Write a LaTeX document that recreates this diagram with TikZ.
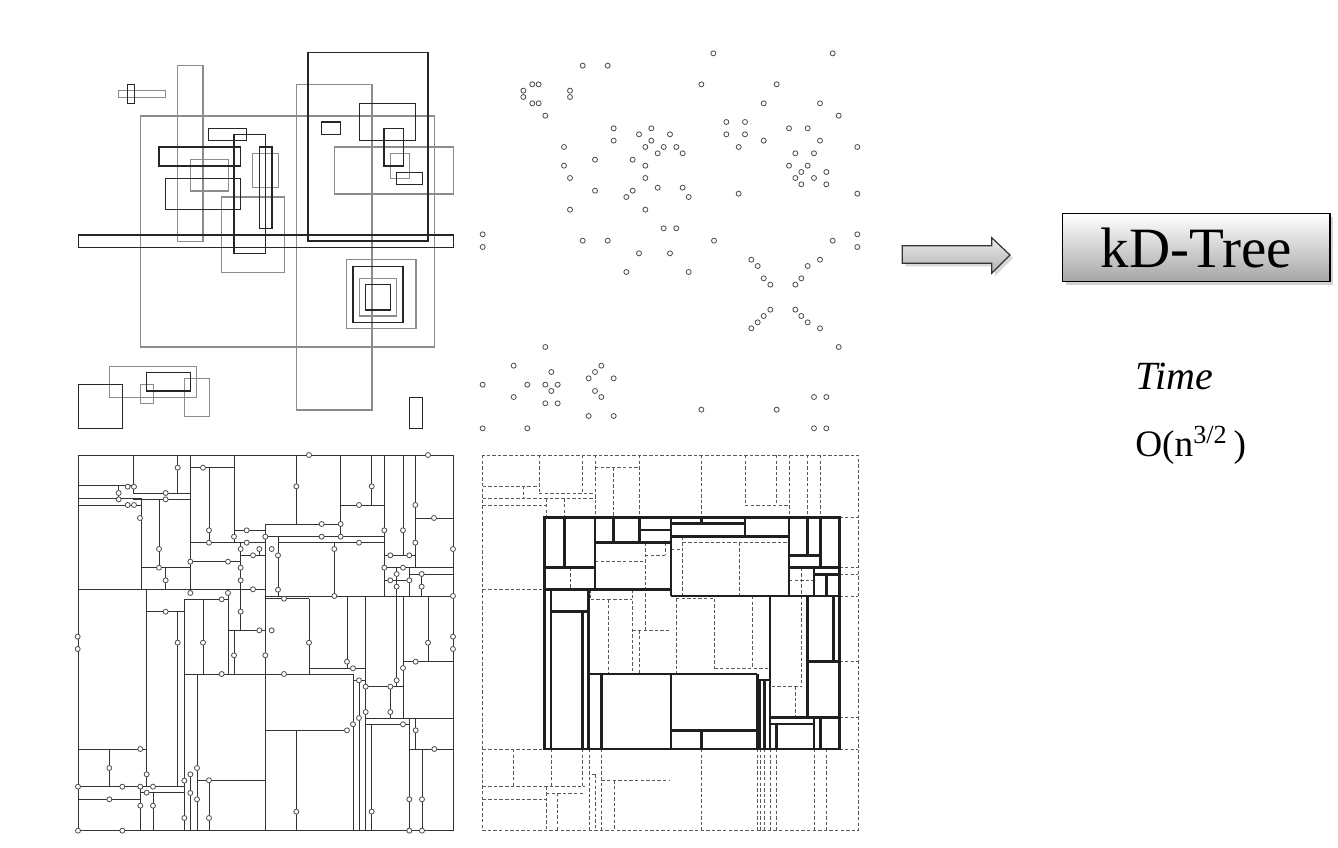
\documentclass[tikz,border=0pt]{standalone}
\usepackage{fontspec}
\setmainfont{Liberation Serif}
\usetikzlibrary{shadows}
\begin{document}
\begin{tikzpicture}[x=0.75pt,y=-0.75pt,
  rg/.style={draw=black!45,line width=0.8pt},
  rd/.style={draw=black!85,line width=0.8pt},
  pt/.style={draw=black!70,fill=white,line width=0.6pt},
  kl/.style={draw=black!80,line width=0.7pt},
  dl/.style={draw=black!65,line width=0.6pt,dash pattern=on 2.6pt off 1.6pt},
  tl/.style={draw=black!88,line width=2.1pt},
  boxstyle/.style={draw=black,line width=1.1pt,top color=white,bottom color=black!35,
     minimum width=200.5pt,minimum height=51pt,inner sep=0pt,drop shadow={opacity=0.35}},
  labelstyle/.style={inner sep=0pt,anchor=base west}]
\useasboundingbox (0,0) rectangle (1338,848);

% ---------------- top-left: rectangles ----------------
\begin{scope}[shift={(70,40)},scale=1/3]
\foreach \a/\b/\c/\d in {145/152/287/172, 323/76/399/604, 211/228/1093/921, 680/133/906/1110,
  361/359/475/453, 548/340/625/443, 455/471/643/697, 962/340/1018/415, 830/659/1038/865,
  868/716/980/828, 118/979/380/1072, 211/1034/250/1090, 343/1016/418/1129, 793/321/1150/462}
  \draw[rg] (\a,\b) rectangle (\c,\d);
\foreach \a/\b/\c/\d in {173/133/193/190, 714/38/1074/603, 25/585/1150/622, 416/266/530/301,
  492/283/587/640, 267/321/512/378, 286/415/512/509, 568/321/606/565, 869/190/1036/301,
  942/266/1000/378, 980/397/1057/433, 849/679/999/848, 887/734/962/810, 25/1034/157/1165,
  230/997/362/1053, 1018/1072/1058/1165, 755/246/811/283}
  \draw[rd] (\a,\b) rectangle (\c,\d);
\end{scope}

% ---------------- top-right: points ----------------
\begin{scope}[shift={(470,40)},scale=1/3]
\foreach \x/\y in {730/40,1088/40,338/77,413/77,187/133,206/133,694/133,920/133,
  160/152,300/152,160/171,300/171,187/190,206/190,881/190,1050/190,226/227,1106/227,
  769/246,825/246,431/265,544/265,957/265,1013/265,507/283,600/283,769/283,825/283,
  431/302,544/302,881/302,1050/302,282/321,526/321,581/321,619/321,806/321,1162/321,
  563/340,638/340,976/340,1032/340,375/359,488/359,282/377,526/377,957/377,1013/377,
  994/396,1069/396,300/414,526/414,976/414,1032/414,994/433,1069/433,563/443,638/443,
  375/452,488/452,469/471,656/471,806/461,1162/461,300/509,526/509,581/565,619/565,
  38/583,1162/583,338/602,413/602,732/602,1088/602,38/621,1162/621,507/640,600/640,
  844/659,1050/659,863/678,1013/678,469/696,656/696,881/715,994/715,901/734,976/734,
  901/809,976/809,881/828,994/828,863/847,1013/847,844/865,1050/865,226/921,1106/921,
  131/977,394/977,244/996,375/996,356/1015,431/1015,38/1034,172/1034,226/1034,263/1034,
  244/1053,375/1053,131/1071,394/1071,1032/1071,1069/1071,226/1090,263/1090,694/1109,
  920/1109,356/1128,431/1128,38/1165,172/1165,1032/1165,1069/1165}
  \draw[pt] (\x,\y) circle[radius=7.5];
\end{scope}

% ---------------- bottom-left: kd partition ----------------
\begin{scope}[shift={(70,450)},scale=1/3]
\draw[kl] (25,15) rectangle (1149,1142);
\foreach \a/\b/\c/\d in {190/15/190/130, 190/130/361/130, 323/15/323/130, 361/15/361/418,
  25/107/190/107, 145/107/145/145, 25/145/213/145, 25/165/213/165, 190/148/361/148,
  213/145/213/418, 267/148/267/353, 213/353/361/353, 287/353/287/418, 25/418/586/418,
  417/53/417/278, 361/53/492/53, 492/15/492/278, 492/241/586/241, 361/278/586/278,
  361/335/512/335, 512/278/512/418, 512/316/586/316, 568/297/568/316, 230/418/230/1010,
  230/485/343/485, 343/448/343/1142, 343/448/474/448, 323/485/323/1010, 399/448/399/672,
  474/418/474/672, 492/541/492/672, 512/418/512/541, 474/541/586/541, 586/222/586/1142,
  679/15/679/222, 586/222/812/222, 812/15/812/260, 812/165/943/165, 905/15/905/165,
  943/15/943/438, 586/260/943/260, 624/278/943/278, 624/260/624/438, 793/278/793/438,
  999/15/999/316, 943/316/1036/316, 1036/15/1036/353, 1036/204/1149/204, 943/353/1149/353,
  1018/372/1149/372, 1018/353/1018/438, 943/391/1018/391, 980/353/980/438, 1055/372/1055/438,
  586/438/1149/438, 586/446/717/446, 717/446/717/672, 831/438/831/655, 887/438/887/1142,
  980/438/980/710, 999/438/999/804, 1074/438/1074/635, 343/672/849/672, 381/672/381/1142,
  381/991/586/991, 417/991/417/1142, 25/897/230/897, 118/897/118/1010, 25/1010/343/1010,
  211/1028/343/1028, 25/1048/211/1048, 211/1010/211/1142, 249/1028/249/1142, 361/973/361/1142,
  717/655/887/655, 849/672/849/1142, 867/691/867/1142, 849/691/887/691, 887/710/999/710,
  961/710/961/804, 999/635/1149/635, 887/804/1149/804, 887/823/1018/823, 904/823/904/1142,
  1018/804/1018/1142, 1037/804/1037/897, 1018/897/1149/897, 1056/897/1056/1142,
  586/841/831/841, 679/841/679/1142}
  \draw[kl] (\a,\b) -- (\c,\d);
\foreach \x/\y in {323/53,399/53,173/110,192/110,146/129,146/148,287/129,287/148,173/165,
  192/165,210/204,417/241,417/278,492/260,530/241,530/278,586/260,267/297,267/353,287/391,
  361/335,474/335,512/297,512/353,512/391,549/316,568/297,549/418,361/429,455/448,474/429,
  287/485,512/485,568/541,23/560,23/597,323/578,399/578,
  717/15,1074/15,679/109,755/222,812/222,905/109,867/165,943/241,943/353,755/260,812/260,
  867/278,605/297,624/316,624/419,793/297,793/438,999/241,961/316,1018/316,1036/165,
  1036/278,1092/204,1149/297,1149/438,1149/560,1149/597,999/353,1055/372,980/372,980/410,
  961/391,1018/391,1055/410,642/446,717/578,1074/578,605/541,
  492/616,586/616,455/672,230/973,343/992,343/1104,381/954,381/1048,417/991,417/1104,
  211/897,118/954,24/1010,157/1010,211/1010,249/1010,230/1028,118/1048,211/1067,249/1067,
  361/973,361/1029,24/1142,157/1142,
  642/672,831/635,849/655,867/691,849/823,867/804,887/710,887/786,961/710,961/786,980/691,
  999/654,999/823,1037/635,1037/841,1093/897,831/841,679/1085,905/1085,1018/1048,1056/1048,
  1018/1142,1056/1142}
  \draw[pt] (\x,\y) circle[radius=7.5];
\end{scope}

% ---------------- bottom-right: dashed partition with thick cells ----------------
\begin{scope}[shift={(470,450)},scale=1/3]
\draw[dl] (38,15) rectangle (1165,1142);
\foreach \a/\b/\c/\d in {207/15/207/130, 207/130/375/130, 338/15/338/130, 375/15/375/203,
  38/108/207/108, 160/108/160/145, 38/145/375/145, 38/165/228/165, 228/145/228/203,
  283/145/283/203, 375/53/508/53, 430/53/430/203, 508/15/508/203, 38/418/224/418,
  300/353/300/418, 375/335/525/335, 525/278/525/541, 525/316/586/316, 586/278/586/316,
  362/418/362/448, 362/448/487/448, 414/448/414/672, 487/418/487/672, 487/541/600/541,
  508/541/508/672, 695/15/695/203, 825/15/825/165, 825/165/957/165, 920/15/920/165,
  957/15/957/203, 1013/15/1013/203, 1051/15/1051/203, 638/278/957/278, 638/260/638/438,
  808/278/808/438, 603/297/638/297, 995/353/995/438, 957/391/1032/391, 1108/203/1165/203,
  1108/353/1165/353, 1108/372/1165/372, 1108/438/1165/438, 618/446/618/672, 618/446/733/446,
  733/446/733/655, 847/438/847/655, 733/655/900/655, 995/438/995/710, 905/710/995/710,
  975/710/975/802, 38/897/224/897, 130/897/130/1010, 38/1010/345/1010, 245/897/245/1010,
  338/897/338/1010, 358/897/358/1142, 228/1029/345/1029, 228/1010/228/1142, 262/1029/262/1142,
  38/1048/228/1048, 365/973/376/973, 376/973/376/1142, 394/897/394/1142, 394/991/600/991,
  432/991/432/1142, 1108/635/1165/635, 1108/802/1165/802, 1108/897/1165/897,
  695/897/695/1142, 862/897/862/1142, 870/897/870/1142, 883/897/883/1142, 900/897/900/1142,
  920/897/920/1142, 1032/897/1032/1142, 1070/897/1070/1142}
  \draw[dl] (\a,\b) -- (\c,\d);
\foreach \a/\b/\c/\d in {283/203/283/353, 224/353/375/353, 375/203/375/418, 224/418/603/418,
  603/438/1108/438, 603/203/603/438, 375/278/603/278, 430/203/430/278, 508/203/508/278,
  508/240/603/240, 603/220/825/220, 695/203/695/220, 825/203/825/260, 603/260/957/260,
  957/203/957/438, 1013/203/1013/316, 957/316/1051/316, 1051/203/1051/353, 957/353/1108/353,
  1032/353/1032/438, 1032/374/1108/374, 1070/374/1070/438, 243/418/243/897, 243/485/355/485,
  355/418/355/897, 338/485/338/897, 355/672/862/672, 395/672/395/897, 862/672/862/897,
  603/672/603/897, 603/841/862/841, 695/841/695/897, 900/438/900/897, 862/690/900/690,
  868/690/868/897, 883/690/883/897, 1013/438/1013/802, 1013/635/1108/635, 1090/438/1090/635,
  900/802/1108/802, 900/822/1032/822, 920/822/920/897, 1032/802/1032/897, 1052/802/1052/897}
  \draw[tl] (\a,\b) -- (\c,\d);
\draw[tl] (224,203) rectangle (1108,897);
\end{scope}

% ---------------- right side ----------------
\draw[draw=black!80,line width=0.9pt,top color=black!8,bottom color=black!30,
      drop shadow={opacity=0.3}]
  (902.3,245.7) -- (991.7,245.7) -- (991.7,237.7) -- (1010,255) -- (991.7,273.3)
  -- (991.7,263.3) -- (902.3,263.3) -- cycle;
\node[boxstyle] (kd) at (1196.3,247.7) {\fontsize{42.75}{50}\selectfont kD-Tree};
\node[labelstyle] (time) at (1135,389) {\fontsize{30}{36}\selectfont\itshape Time};
\node[labelstyle] (cplx) at (1135,456) {\fontsize{28}{34}\selectfont O(n\textsuperscript{3/2}\,)};
\end{tikzpicture}
\end{document}
